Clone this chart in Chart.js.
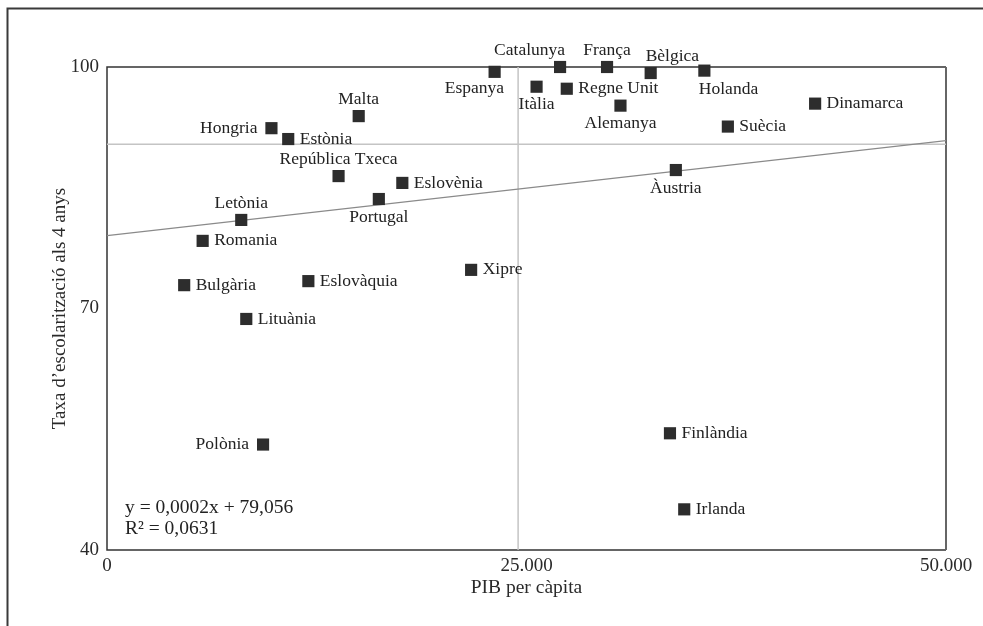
<!DOCTYPE html>
<html>
<head>
<meta charset="utf-8">
<script src="https://cdn.jsdelivr.net/npm/chart.js@4.4.1/dist/chart.umd.min.js"></script>
<style>
  html, body { margin: 0; padding: 0; background: #ffffff; }
  canvas { display: block; }
</style>
</head>
<body>
<canvas id="c" width="983" height="626"></canvas>
<script>
// ---- Data ----
const countries = ["Catalunya","França","Bèlgica","Holanda","Espanya","Itàlia","Regne Unit","Alemanya","Dinamarca","Suècia","Àustria","Malta","Hongria","Estònia","República Txeca","Eslovènia","Portugal","Letònia","Romania","Bulgària","Eslovàquia","Lituània","Xipre","Polònia","Finlàndia","Irlanda"];
const gdpPerCapita = [27000,29800,32400,35600,23100,25600,27400,30600,42200,37000,33900,15000,9800,10800,13800,17600,16200,8000,5700,4600,12000,8300,21700,9300,33550,34400];
const schoolingRate = [100.0,100.0,99.25,99.55,99.4,97.55,97.3,95.2,95.45,92.6,87.2,93.9,92.4,91.05,86.45,85.6,83.6,81.0,78.4,72.9,73.4,68.7,74.8,53.1,54.5,45.05];
const trendX = [0, 50000];
const trendY = [79.056, 90.85];
const meanGdp = 24500;
const meanRate = 90.4;
const xTicks = [0, 25000, 50000];
const yTicks = [40, 70, 100];
const equationLines = ["y = 0,0002x + 79,056", "R\u00B2 = 0,0631"];

// label placement (style only)
const labelPlacement = {
  "Catalunya":"tl","França":"t","Bèlgica":"tr","Holanda":"br","Espanya":"bl","Itàlia":"b",
  "Regne Unit":"r","Alemanya":"b","Dinamarca":"r","Suècia":"r","Àustria":"b","Malta":"t",
  "Hongria":"l","Estònia":"r","República Txeca":"t","Eslovènia":"r","Portugal":"b","Letònia":"t",
  "Romania":"r","Bulgària":"r","Eslovàquia":"r","Lituània":"r","Xipre":"r","Polònia":"l",
  "Finlàndia":"r","Irlanda":"r"
};

const FONT = "'Liberation Serif', 'Times New Roman', serif";
const fmtThousands = v => v === 0 ? "0" : String(v).replace(/\B(?=(\d{3})+(?!\d))/g, ".");

const framePlugin = {
  id: 'frame',
  beforeDraw(chart) {
    const ctx = chart.ctx;
    ctx.save();
    ctx.strokeStyle = '#3a3a3a';
    ctx.lineWidth = 2;
    ctx.beginPath();
    ctx.moveTo(7.5, 626);
    ctx.lineTo(7.5, 8.5);
    ctx.lineTo(983, 8.5);
    ctx.stroke();
    ctx.restore();
  },
  beforeDatasetsDraw(chart) {
    const {ctx, chartArea: a} = chart;
    ctx.save();
    ctx.strokeStyle = '#333';
    ctx.lineWidth = 1.5;
    ctx.beginPath();
    ctx.moveTo(a.right, a.top);
    ctx.lineTo(a.left, a.top);
    ctx.lineTo(a.left, a.bottom);
    ctx.lineTo(a.right, a.bottom);
    ctx.stroke();
    ctx.strokeStyle = '#666';
    ctx.lineWidth = 2;
    ctx.beginPath();
    ctx.moveTo(a.right, a.top);
    ctx.lineTo(a.right, a.bottom);
    ctx.stroke();
    ctx.restore();
  }
};

const labelPlugin = {
  id: 'pointLabels',
  afterDatasetsDraw(chart) {
    const {ctx, chartArea: a} = chart;
    const meta = chart.getDatasetMeta(0);
    ctx.save();
    ctx.font = "17.5px " + FONT;
    ctx.fillStyle = '#222';
    ctx.textBaseline = 'middle';
    meta.data.forEach((pt, i) => {
      const name = countries[i];
      const p = labelPlacement[name] || 'r';
      let x = pt.x, y = pt.y;
      if (p === 'r') { ctx.textAlign = 'left'; x += 11.5; }
      else if (p === 'l') { ctx.textAlign = 'right'; x -= 14; }
      else if (p === 't') { ctx.textAlign = 'center'; y -= 17; }
      else if (p === 'b') { ctx.textAlign = 'center'; y += 18; }
      else if (p === 'tl') { ctx.textAlign = 'right'; x += 5; y -= 17; }
      else if (p === 'tr') { ctx.textAlign = 'left'; x -= 5; y -= 17; }
      else if (p === 'bl') { ctx.textAlign = 'right'; x += 9.5; y += 16.5; }
      else if (p === 'br') { ctx.textAlign = 'left'; x -= 5.5; y += 18.5; }
      ctx.fillText(name, x, y);
    });
    // regression equation
    ctx.font = "19.5px " + FONT;
    ctx.textAlign = 'left';
    ctx.fillStyle = '#222';
    ctx.fillText(equationLines[0], a.left + 18, a.bottom - 42);
    ctx.fillText(equationLines[1], a.left + 18, a.bottom - 21);
    ctx.restore();
  }
};

new Chart(document.getElementById('c'), {
  type: 'scatter',
  data: {
    datasets: [
      {
        label: 'Països',
        data: countries.map((c, i) => ({x: gdpPerCapita[i], y: schoolingRate[i]})),
        pointStyle: 'rect',
        pointRadius: 8.6,
        pointHoverRadius: 8.6,
        pointBackgroundColor: '#2d2d2d',
        pointBorderWidth: 0,
        borderWidth: 0,
        clip: false
      },
      {
        label: 'Tendència',
        type: 'line',
        data: trendX.map((x, i) => ({x: x, y: trendY[i]})),
        borderColor: '#8a8a8a',
        borderWidth: 1.3,
        pointRadius: 0,
        fill: false
      },
      {
        label: 'Mitjana taxa',
        type: 'line',
        data: [{x: xTicks[0], y: meanRate}, {x: xTicks[xTicks.length - 1], y: meanRate}],
        borderColor: '#c4c4c4',
        borderWidth: 1.5,
        pointRadius: 0,
        fill: false
      },
      {
        label: 'Mitjana PIB',
        type: 'line',
        data: [{x: meanGdp, y: yTicks[0]}, {x: meanGdp, y: yTicks[yTicks.length - 1]}],
        borderColor: '#c4c4c4',
        borderWidth: 1.5,
        pointRadius: 0,
        fill: false
      }
    ]
  },
  options: {
    responsive: false,
    animation: false,
    events: [],
    layout: { padding: { left: 0, right: 37, top: 67, bottom: 0 } },
    plugins: { legend: { display: false }, tooltip: { enabled: false } },
    scales: {
      x: {
        type: 'linear',
        min: 0, max: 50000,
        afterBuildTicks: axis => { axis.ticks = xTicks.map(v => ({value: v})); },
        afterFit: axis => { axis.height = 76; },
        grid: { display: false, drawTicks: false },
        border: { display: false },
        ticks: {
          padding: 5,
          color: '#2a2a2a',
          font: { family: FONT, size: 19 },
          maxRotation: 0,
          callback: v => fmtThousands(v)
        },
        title: {
          display: true,
          text: 'PIB per càpita',
          color: '#2a2a2a',
          font: { family: FONT, size: 19.5 },
          padding: { top: 0, bottom: 26.5 }
        }
      },
      y: {
        type: 'linear',
        min: 40, max: 100,
        afterBuildTicks: axis => { axis.ticks = yTicks.map(v => ({value: v})); },
        afterFit: axis => { axis.width = 107; },
        grid: { display: false, drawTicks: false },
        border: { display: false },
        ticks: {
          padding: 8,
          color: '#2a2a2a',
          font: { family: FONT, size: 19 },
          callback: v => String(v)
        },
        title: {
          display: true,
          text: 'Taxa d\u2019escolarització als 4 anys',
          color: '#2a2a2a',
          font: { family: FONT, size: 19 },
          padding: { top: 48.5, bottom: 0 }
        }
      }
    }
  },
  plugins: [framePlugin, labelPlugin]
});
</script>
</body>
</html>
